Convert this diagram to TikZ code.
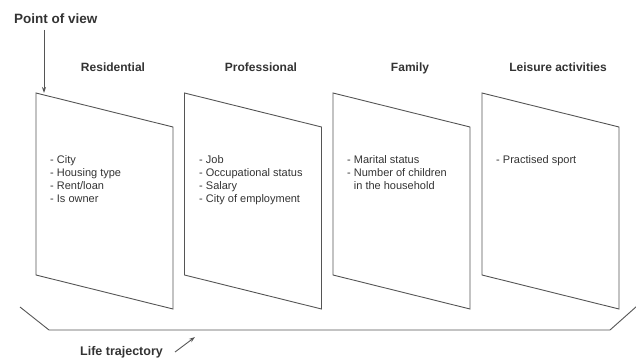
\documentclass[tikz,border=0pt]{standalone}
\usepackage{fontspec}
\setmainfont{Liberation Sans}
\usetikzlibrary{arrows.meta}
\definecolor{linegray}{HTML}{555555}
\definecolor{textgray}{HTML}{333333}
\tikzset{
  panel/.style={draw=linegray, line width=0.9pt, line join=miter},
  title/.style={font=\fontsize{12}{14}\selectfont\bfseries, text=textgray, anchor=base, inner sep=0pt},
  items/.style={font=\fontsize{11}{13}\selectfont, text=textgray, anchor=north west, inner sep=0pt, align=left},
  bigtitle/.style={font=\fontsize{13.5}{16}\selectfont\bfseries, text=textgray, anchor=base west, inner sep=0pt},
  pointer/.style={draw=linegray, line width=0.9pt, -{Stealth[length=6pt,width=4pt]}}
}
\begin{document}
\begin{tikzpicture}[x=1pt,y=-1pt]
\useasboundingbox (0,0) rectangle (636,358);
\coordinate (p1) at (36,93);
\coordinate (p2) at (184.5,93);
\coordinate (p3) at (333,93);
\coordinate (p4) at (482,93);
\foreach \n in {1,2,3,4}{
  \draw[panel] (p\n) -- ++(137,34) -- ++(0,182) -- ++(-137,-34) -- cycle;
}
\draw[panel] (20,307) -- (49,330) -- (610,330) -- (637,306);
\node[title] (t1) at (113,72) {Residential};
\node[title] (t2) at (261,72) {Professional};
\node[title] (t3) at (410,72) {Family};
\node[title] (t4) at (558,72) {Leisure activities};
\node[items] (l1) at (50,155) {- City\\- Housing type\\- Rent/loan\\- Is owner};
\node[items] (l2) at (199,155) {- Job\\- Occupational status\\- Salary\\- City of employment};
\node[items] (l3) at (347,155) {- Marital status\\- Number of children\\\hphantom{- }in the household};
\node[items] (l4) at (496,155) {- Practised sport};
\node[bigtitle] (pov) at (14,24) {Point of view};
\coordinate (povstart) at (44,30);
\draw[pointer] (povstart) -- ([xshift=8pt]p1);
\node[bigtitle, font=\fontsize{12.5}{15}\selectfont\bfseries] (lt) at (80,355) {Life trajectory};
\coordinate (ltstart) at (175,352);
\coordinate (ltend) at (195,337);
\draw[pointer] (ltstart) -- (ltend);
\end{tikzpicture}
\end{document}
